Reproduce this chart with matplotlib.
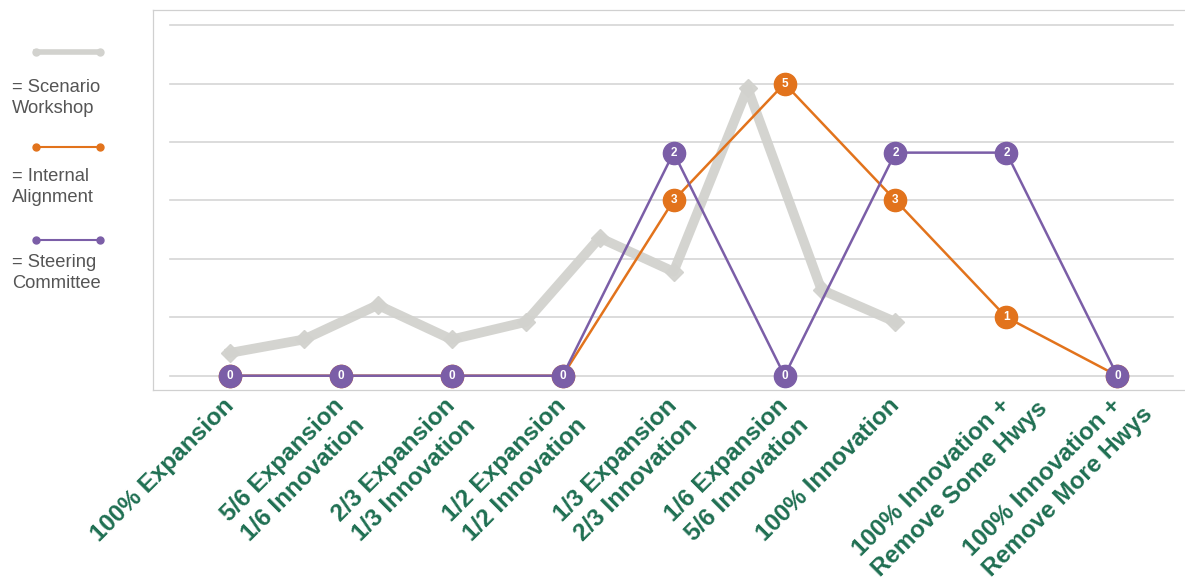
import matplotlib.pyplot as plt
import matplotlib.transforms as mtransforms
import numpy as np

plt.rcParams['font.family'] = ['Liberation Sans', 'DejaVu Sans']

escenarios = ["100% Expansion",
              "5/6 Expansion\n1/6 Innovation",
              "2/3 Expansion\n1/3 Innovation",
              "1/2 Expansion\n1/2 Innovation",
              "1/3 Expansion\n2/3 Innovation",
              "1/6 Expansion\n5/6 Innovation",
              "100% Innovation",
              "100% Innovation +\nRemove Some Hwys",
              "100% Innovation +\nRemove More Hwys"]

internal = [0, 0, 0, 0, 3, 5, 3, 1, 0]
steering = [0, 0, 0, 0, 2, 0, 2, 2, 0]
# workshop series has its own finer spacing over the first seven scenarios
workshop = [0.39, 0.62, 1.21, 0.62, 0.92, 2.36, 1.78, 4.92, 1.47, 0.92]

cor_laranja = '#e2731c'
cor_roxo = '#7b5ea7'
cor_cinza = '#d2d2ce'
cor_verde = '#1f6f52'
tam_rotulo = 17.5

fig = plt.figure(figsize=(11.85, 5.8), dpi=100)
ax = fig.add_axes([0.129, 0.328, 0.871, 0.655])
ax2 = ax.twinx()

x = np.arange(len(escenarios))
xw = np.linspace(0, 6, len(workshop))

for y in range(7):
    ax.axhline(y, xmin=0.017, xmax=0.988, color='#d6d6d6', lw=1.2, zorder=0)

ax.plot(xw, workshop, color=cor_cinza, lw=7, marker='D', ms=9,
        mfc=cor_cinza, mec=cor_cinza, solid_joinstyle='round', zorder=1, alpha=0.95)
ax.plot(x, internal, color=cor_laranja, lw=1.8, marker='o', ms=16,
        mfc=cor_laranja, mec=cor_laranja, zorder=3)
for xi, v in zip(x, internal):
    if v > 0:
        ax.text(xi, v, str(v), color='white', fontsize=8.5, fontweight='bold',
                ha='center', va='center', zorder=4)

ax2.plot(x, steering, color=cor_roxo, lw=1.8, marker='o', ms=16,
         mfc=cor_roxo, mec=cor_roxo, zorder=3)
for xi, v in zip(x, steering):
    ax2.text(xi, v, str(v), color='white', fontsize=8.5, fontweight='bold',
             ha='center', va='center', zorder=4)

ax.set_xlim(-0.694, 8.61)
ax.set_ylim(-0.24, 6.26)
ax2.set_ylim(-0.126, 3.28)

for a in (ax, ax2):
    a.set_yticks([])
    a.spines['right'].set_visible(False)
    for s in ('left', 'top', 'bottom'):
        a.spines[s].set_color('#d0d0d0')

ax.set_xticks(x)
ax.set_xticklabels(escenarios, rotation=45, ha='right', va='top',
                   rotation_mode='anchor', multialignment='left',
                   linespacing=1.3, fontsize=tam_rotulo, fontweight='bold',
                   color=cor_verde)
ax.tick_params(axis='x', length=0, pad=3)

# o fim da primeira linha de cada rótulo fica junto do tick
fig.canvas.draw()
renderer = fig.canvas.get_renderer()
c45 = np.cos(np.radians(45))
for rot in ax.get_xticklabels():
    larguras = []
    for linha in rot.get_text().split('\n'):
        t = fig.text(0, 0, linha, fontsize=tam_rotulo, fontweight='bold')
        larguras.append(t.get_window_extent(renderer).width)
        t.remove()
    extra = max(larguras) - larguras[0]
    desloca = mtransforms.ScaledTranslation((-8 + extra * c45) / 100,
                                            (extra * c45) / 100,
                                            fig.dpi_scale_trans)
    rot.set_transform(rot.get_transform() + desloca)

# legenda feita à mão na margem esquerda
itens = [(cor_cinza, 52, 4, "= Scenario\nWorkshop", 98),
         (cor_laranja, 147, 1.5, "= Internal\nAlignment", 187),
         (cor_roxo, 240, 1.5, "= Steering\nCommittee", 273)]
for cor, yp, lw, texto, yt in itens:
    yf = 1 - yp / 580
    fig.add_artist(plt.Line2D([0.030, 0.084], [yf, yf], color=cor, lw=lw,
                              marker='o', ms=5, markevery=[0, 1]))
    fig.text(0.010, 1 - yt / 580, texto, fontsize=13.2, color='#555555',
             va='center', ha='left', linespacing=1.25)

fig.savefig('out.png', dpi=100)
